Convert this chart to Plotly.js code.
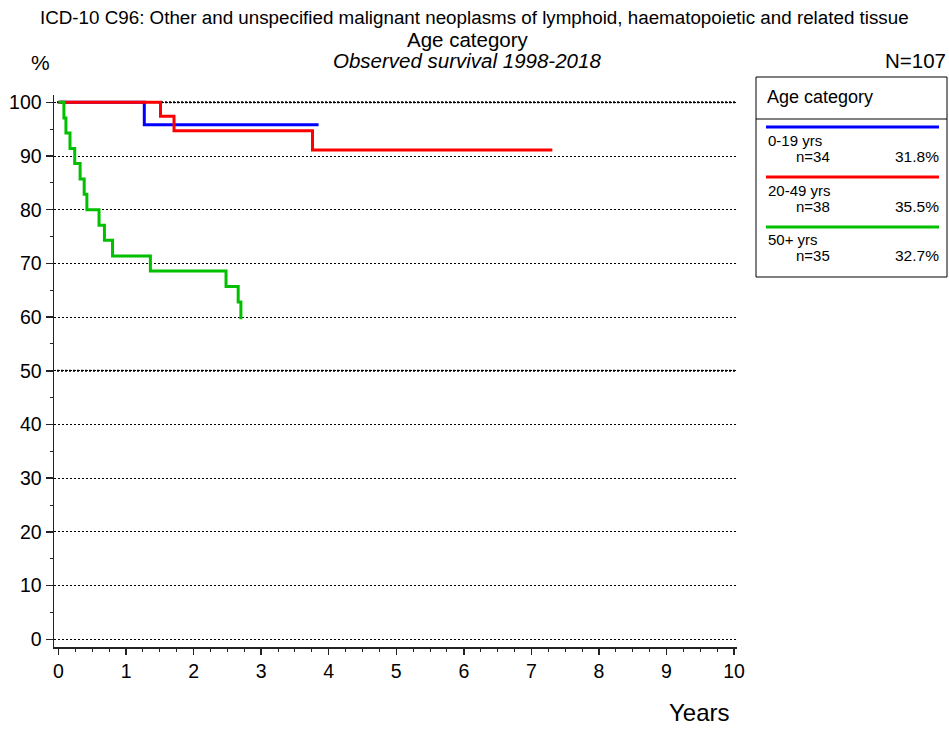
<!DOCTYPE html>
<html><head><meta charset="utf-8">
<script src="https://cdn.plot.ly/plotly-3.0.1.min.js"></script>
<style>html,body{margin:0;padding:0;background:#fff}#chart{width:949px;height:729px}</style>
</head><body><div id="chart"></div>
<script>
// ---- data ----
const seriesNames = ['0-19 yrs', '20-49 yrs', '50+ yrs'];
const seriesN = [34, 38, 35];
const seriesPct = ['31.8%', '35.5%', '32.7%'];
const seriesColors = ['#0000ff', '#ff0000', '#00c000'];

const blueT = [0, 1.27, 3.85];
const blueS = [100, 95.8, 95.8];
const redT = [0, 1.51, 1.71, 3.76, 7.31];
const redS = [100, 97.4, 94.7, 91.1, 91.1];
const greenT = [0, 0.08, 0.11, 0.17, 0.24, 0.32, 0.38, 0.42, 0.60, 0.68, 0.80, 1.36, 2.48, 2.66, 2.70];
const greenS = [100, 97.1, 94.3, 91.4, 88.6, 85.7, 82.9, 80.0, 77.1, 74.3, 71.4, 68.6, 65.7, 62.8, 59.6];

const xTicks = [0,1,2,3,4,5,6,7,8,9,10];
const yTicks = [0,10,20,30,40,50,60,70,80,90,100];
const boldGrid = [50, 100];

const titleLine1 = 'ICD-10 C96: Other and unspecified malignant neoplasms of lymphoid, haematopoietic and related tissue';
const titleLine2 = 'Age category';
const titleLine3 = 'Observed survival 1998-2018';
const totalN = 'N=107';

// ---- layout helpers (pixel -> paper) ----
const W = 949, H = 729, L = 54, R = 737, T = 95, B = 647;
const px = p => (p - L) / (R - L);
const py = p => (B - p) / (B - T);
const FONT = 'Arial, "Liberation Sans", sans-serif';

const allT = [blueT, redT, greenT];
const allS = [blueS, redS, greenS];
const traces = allT.map((t, i) => ({
  x: t, y: allS[i], type: 'scatter', mode: 'lines',
  line: {shape: 'hv', color: seriesColors[i], width: 3},
  name: seriesNames[i], hoverinfo: 'skip'
}));

const shapes = [];
const annotations = [];
boldGrid.forEach(v => shapes.push({type: 'line', xref: 'paper', yref: 'y', x0: px(57), x1: 1, y0: v, y1: v,
  line: {color: '#000', width: 2, dash: '2px,2px'}, layer: 'below'}));

// legend box
shapes.push({type: 'rect', xref: 'paper', yref: 'paper', x0: px(756), x1: px(947), y0: py(77), y1: py(277),
  line: {color: '#000', width: 1}});
shapes.push({type: 'line', xref: 'paper', yref: 'paper', x0: px(756), x1: px(947), y0: py(119), y1: py(119),
  line: {color: '#000', width: 1}});
annotations.push({xref: 'paper', yref: 'paper', x: px(765), y: py(97), xanchor: 'left', yanchor: 'middle',
  text: 'Age category', showarrow: false, font: {family: FONT, size: 18, color: '#000'}});
seriesNames.forEach((nm, i) => {
  const ly = 127 + i * 50;
  shapes.push({type: 'line', xref: 'paper', yref: 'paper', x0: px(766), x1: px(939), y0: py(ly), y1: py(ly),
    line: {color: seriesColors[i], width: 3}});
  annotations.push({xref: 'paper', yref: 'paper', x: px(766), y: py(ly + 13), xanchor: 'left', yanchor: 'middle',
    text: nm, showarrow: false, font: {family: FONT, size: 15, color: '#000'}});
  annotations.push({xref: 'paper', yref: 'paper', x: px(794), y: py(ly + 29), xanchor: 'left', yanchor: 'middle',
    text: 'n=' + seriesN[i], showarrow: false, font: {family: FONT, size: 15, color: '#000'}});
  annotations.push({xref: 'paper', yref: 'paper', x: px(941), y: py(ly + 29), xanchor: 'right', yanchor: 'middle',
    text: seriesPct[i], showarrow: false, font: {family: FONT, size: 15.5, color: '#000'}});
});

// titles
annotations.push({xref: 'paper', yref: 'paper', x: px(474), y: py(18), xanchor: 'center', yanchor: 'middle',
  text: titleLine1, showarrow: false, font: {family: FONT, size: 18.8, color: '#000'}});
annotations.push({xref: 'paper', yref: 'paper', x: px(468), y: py(39), xanchor: 'center', yanchor: 'middle',
  text: titleLine2, showarrow: false, font: {family: FONT, size: 20.5, color: '#000'}});
annotations.push({xref: 'paper', yref: 'paper', x: px(467), y: py(60), xanchor: 'center', yanchor: 'middle',
  text: '<i>' + titleLine3 + '</i>', showarrow: false, font: {family: FONT, size: 20.5, color: '#000'}});
annotations.push({xref: 'paper', yref: 'paper', x: px(40), y: py(63), xanchor: 'center', yanchor: 'middle',
  text: '%', showarrow: false, font: {family: FONT, size: 21, color: '#000'}});
annotations.push({xref: 'paper', yref: 'paper', x: px(948), y: py(60), xanchor: 'right', yanchor: 'middle',
  text: totalN, showarrow: false, font: {family: FONT, size: 20.5, color: '#000'}});
annotations.push({xref: 'paper', yref: 'paper', x: px(732), y: py(712), xanchor: 'right', yanchor: 'middle',
  text: 'Years', showarrow: false, font: {family: FONT, size: 24, color: '#000'}});

const layout = {
  width: W, height: H,
  margin: {l: L, r: W - R, t: T, b: H - B, pad: 0},
  paper_bgcolor: '#fff', plot_bgcolor: '#fff',
  showlegend: false,
  font: {family: FONT, color: '#000'},
  xaxis: {
    range: [-0.0667, 10.044], tickmode: 'array', tickvals: xTicks, ticktext: xTicks.map(String),
    showgrid: false, zeroline: false, showline: true, linecolor: '#222', linewidth: 1.5,
    ticks: 'outside', ticklen: 6, tickwidth: 1.5, tickcolor: '#222',
    tickfont: {family: FONT, size: 19.5, color: '#000'},
    minor: {dtick: 0.25, ticks: 'outside', ticklen: 3, tickwidth: 1, tickcolor: '#222', showgrid: false},
    fixedrange: true
  },
  yaxis: {
    range: [-1.43, 101.36], tickmode: 'array', tickvals: yTicks, ticktext: yTicks.map(String),
    showgrid: true, gridcolor: '#000', gridwidth: 1, griddash: '2px,2px',
    zeroline: false, showline: true, linecolor: '#222', linewidth: 1.5,
    ticks: 'outside', ticklen: 7, tickwidth: 1.5, tickcolor: '#222',
    tickfont: {family: FONT, size: 19.5, color: '#000'},
    minor: {dtick: 5, ticks: 'outside', ticklen: 3, tickwidth: 1, tickcolor: '#222', showgrid: false},
    fixedrange: true
  },
  shapes: shapes,
  annotations: annotations
};

Plotly.newPlot('chart', traces, layout, {staticPlot: true, displayModeBar: false});
</script>
</body></html>
